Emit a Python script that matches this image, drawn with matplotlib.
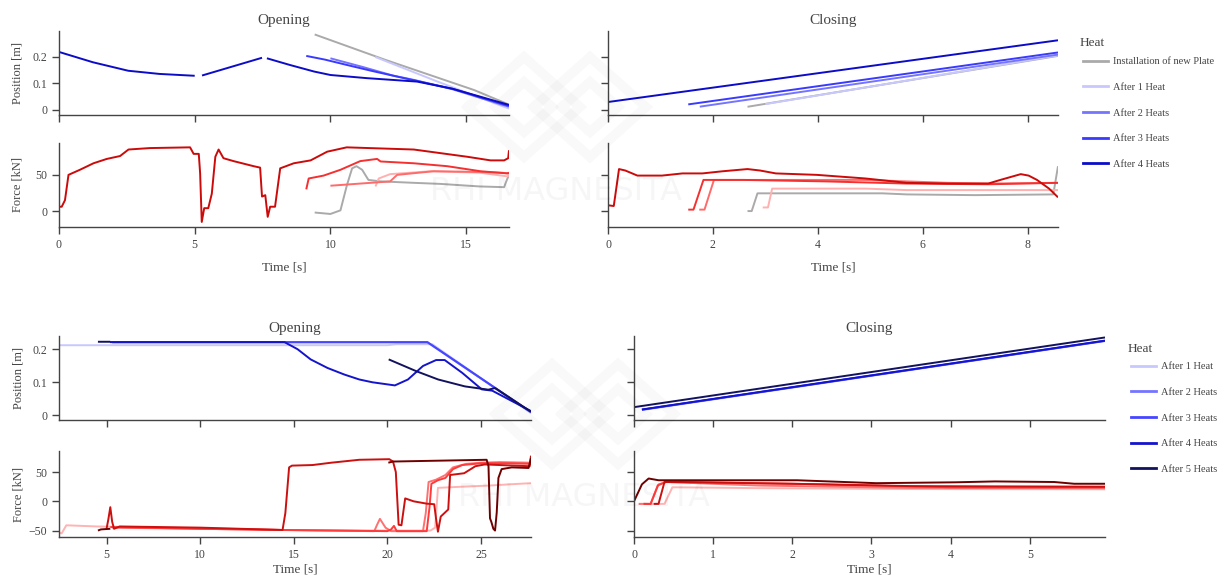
import numpy as np
import matplotlib
matplotlib.use("Agg")
import matplotlib.pyplot as plt
from matplotlib.lines import Line2D

nan = np.nan

# ---------------- data: upper figure (new plate + 4 heats) ----------------
heats_top = ["Installation of new Plate", "After 1 Heat", "After 2 Heats", "After 3 Heats", "After 4 Heats"]
pos_colors_top = ["#aaaaaa", "#c8c8ff", "#7474ff", "#3a3aff", "#0c0cc8"]
force_colors_top = ["#aaaaaa", "#ffb0b0", "#ff6a6a", "#f43030", "#cc0a0a"]

# opening, position
op1_pos_t_inst = [9.42, 12.0, 15.3, 16.58]
op1_pos_inst = [0.285, 0.19, 0.075, 0.02]
op1_pos_t_h1 = [11.65, 14.0, 16.58]
op1_pos_h1 = [0.200, 0.105, 0.005]
op1_pos_t_h2 = [10.0, 11.2, 12.3, 13.1, 14.5, 16.58]
op1_pos_h2 = [0.195, 0.162, 0.13, 0.113, 0.078, 0.012]
op1_pos_t_h3 = [9.11, 9.8, 10.6, 11.5, 12.5, 13.3, 14.5, 16.58]
op1_pos_h3 = [0.204, 0.19, 0.17, 0.148, 0.125, 0.107, 0.08, 0.015]
op1_pos_t_h4 = [0, 1.25, 2.55, 3.7, 5.0, nan, 5.27, 7.48, nan, 7.66, 8.5, 9.4, 10.0, 11.35, 13.2, 14.5, 16.58]
op1_pos_h4 = [0.219, 0.18, 0.148, 0.136, 0.129, nan, 0.13, 0.197, nan, 0.195, 0.17, 0.145, 0.132, 0.12, 0.107, 0.08, 0.019]

# opening, force
op1_f_t_inst = [9.42, 10.0, 10.37, 10.61, 10.8, 10.96, 11.17, 11.4, 11.85, 13.07, 14.06, 15.5, 16.4, 16.5, 16.58]
op1_f_inst = [-2, -4, 1, 36, 59, 62, 57, 43, 41, 39, 37.5, 34, 33, 43, 50]
op1_f_t_h1 = [11.66, 11.78, 12.2, 13.7, 15.5, 16.5, 16.58]
op1_f_h1 = [34, 45, 51, 55, 53, 48, 49]
op1_f_t_h2 = [10.0, 11.85, 12.2, 12.46, 13.8, 15.5, 16.3, 16.58]
op1_f_h2 = [35, 40, 41, 50, 55, 54, 53, 52]
op1_f_t_h3 = [9.11, 9.2, 9.75, 10.37, 11.1, 11.72, 11.85, 13.07, 14.3, 15.53, 16.52, 16.58]
op1_f_h3 = [30, 45, 49, 57, 69, 72, 68.5, 66, 62, 55, 52, 53]
op1_f_t_h4 = [0, 0.1, 0.22, 0.35, 0.47, 0.77, 1.27, 1.76, 2.25, 2.56, 3.35, 4.83, 4.96, 5.15, 5.2, 5.26,
              5.35, 5.5, 5.63, 5.76, 5.88, 6.06, 6.43, 7.17, 7.41, 7.48, 7.6, 7.69, 7.78, 7.96, 8.15,
              8.65, 9.27, 9.88, 10.6, 13.07, 15.04, 15.9, 16.4, 16.55, 16.58]
op1_f_h4 = [6, 6, 15, 50, 52, 57, 66, 72, 76, 85, 87, 88, 79, 79, 52, -15,
            4, 4, 24, 75, 85, 73, 69, 62, 60, 20, 22, -8, 6, 6, 59,
            66, 70, 82, 88, 85, 75, 70, 70, 73, 84]

# closing, position
cl1_pos_t_inst = [2.66, 8.58]
cl1_pos_inst = [0.012, 0.204]
cl1_pos_t_h1 = [3.0, 8.58]
cl1_pos_h1 = [0.022, 0.206]
cl1_pos_t_h2 = [1.75, 8.58]
cl1_pos_h2 = [0.0125, 0.209]
cl1_pos_t_h3 = [1.53, 8.58]
cl1_pos_h3 = [0.021, 0.217]
cl1_pos_t_h4 = [0.0, 8.58]
cl1_pos_h4 = [0.030, 0.263]

# closing, force
cl1_f_t_inst = [2.66, 2.74, 2.85, 4.14, 5.23, 5.7, 7.0, 8.49, 8.58]
cl1_f_inst = [0, 0, 24.5, 24.5, 24.5, 23, 22, 23, 62]
cl1_f_t_h1 = [2.95, 3.05, 3.13, 4.91, 5.69, 8.58]
cl1_f_h1 = [5, 5, 31, 31, 29, 29]
cl1_f_t_h2 = [1.74, 1.84, 2.02, 3.36, 4.91, 6.47, 7.25, 8.58]
cl1_f_h2 = [2, 2, 43, 43, 43, 39, 38, 39]
cl1_f_t_h3 = [1.53, 1.63, 1.82, 2.58, 4.14, 5.69, 7.25, 8.58]
cl1_f_h3 = [2, 2, 43, 43, 41, 38, 37, 39]
cl1_f_t_h4 = [0, 0.11, 0.21, 0.33, 0.56, 1.03, 1.42, 1.8, 2.19, 2.66, 2.9, 3.2, 3.98, 4.91, 5.69,
              6.47, 7.25, 7.48, 7.87, 8.02, 8.18, 8.41, 8.58]
cl1_f_h4 = [8, 7, 58, 56, 49, 49, 52, 52, 55, 58, 56, 52, 50, 45, 39,
            38, 38, 43, 51, 49, 43, 31, 19]

# ---------------- data: lower figure (5 heats) ----------------
heats_bottom = ["After 1 Heat", "After 2 Heats", "After 3 Heats", "After 4 Heats", "After 5 Heats"]
pos_colors_bottom = ["#c8c8ff", "#7474ff", "#4646ff", "#1414cc", "#12125e"]
force_colors_bottom = ["#ffb3b3", "#ff7070", "#ff3a3a", "#cc1010", "#6e0000"]

# opening, position
op2_pos_t_h1 = [2.46, 20.0, 20.5, 22.4, 27.67]
op2_pos_h1 = [0.212, 0.212, 0.215, 0.215, 0.006]
op2_pos_t_h2 = [5.3, 22.14, 27.67]
op2_pos_h2 = [0.2205, 0.2205, 0.008]
op2_pos_t_h3 = [5.2, 22.14, 27.67]
op2_pos_h3 = [0.2215, 0.2215, 0.009]
op2_pos_t_h4 = [5.18, 14.5, 15.2, 15.9, 16.8, 17.7, 18.5, 19.2, 20.4, 21.1, 21.9, 22.6, 23.06, 24.0, 25.04, 25.6, 27.67]
op2_pos_h4 = [0.2215, 0.2215, 0.2, 0.169, 0.143, 0.123, 0.108, 0.0995, 0.09, 0.108, 0.149, 0.167, 0.167, 0.128, 0.078, 0.074, 0.012]
op2_pos_t_h5 = [4.54, 5.2, nan, 20.07, 21.55, 22.71, 24.14, 25.39, 25.75, 27.67]
op2_pos_h5 = [0.2225, 0.2225, nan, 0.169, 0.133, 0.108, 0.087, 0.077, 0.082, 0.01]

# opening, force
op2_f_t_h1 = [2.46, 2.6, 2.85, 4.5, 10.0, 14.4, 20.0, 21.5, 22.3, 22.55, 22.7, 24.0, 25.5, 26.5, 27.67]
op2_f_h1 = [-53, -55, -41, -43, -46, -49, -50, -50, -50, -45, 23, 25, 27, 29, 31]
op2_f_t_h2 = [5.3, 10, 14.4, 19.3, 19.45, 19.6, 19.9, 20.2, 21.9, 22.05, 22.2, 22.6, 23.1, 23.5, 24.2, 25.0, 26.0, 27.67]
op2_f_h2 = [-45, -47, -49, -51, -40, -30, -45, -51, -51, -20, 33, 37, 45, 58, 64, 66, 67, 66]
op2_f_t_h3 = [5.2, 10, 14.4, 20.0, 20.2, 20.35, 20.5, 22.1, 22.25, 22.35, 22.7, 23.1, 23.5, 24.0, 25.0, 26.5, 27.67]
op2_f_h3 = [-44, -47, -49, -51, -48, -42, -51, -51, -10, 30, 36, 40, 55, 62, 65, 65, 64]
op2_f_t_h4 = [5.0, 5.1, 5.2, 5.3, 5.4, 5.7, 10.0, 14.4, 14.55, 14.75, 14.9, 16.0, 17.0, 18.5, 20.1, 20.3,
              20.45, 20.6, 20.75, 20.95, 21.4, 22.1, 22.5, 22.6, 22.7, 22.85, 23.25, 23.35, 24.1, 24.7,
              25.2, 26.0, 27.6, 27.67]
op2_f_h4 = [-47, -30, -10, -35, -47, -43, -45, -49, -20, 58, 61, 62, 66, 71, 72, 68,
            50, -40, -41, 5, 0, -4, -5, -30, -52, -26, -14, 45, 48, 60,
            63, 62, 60, 78]
op2_f_t_h5 = [4.54, 4.7, 5.2, nan, 20.05, 20.3, 25.3, 25.4, 25.48, 25.55, 25.66, 25.75, 25.84, 25.93,
              26.1, 26.64, 27.54, 27.67]
op2_f_h5 = [-50, -48, -47, nan, 66, 68, 71, 60, -29, -35, -47, -50, -19, 40,
            55, 58, 57, 74]

# closing, position
cl2_pos_t_h1 = [0.12, 5.95]
cl2_pos_h1 = [0.0155, 0.2245]
cl2_pos_t_h2 = [0.1, 5.95]
cl2_pos_h2 = [0.016, 0.225]
cl2_pos_t_h3 = [0.1, 5.95]
cl2_pos_h3 = [0.0165, 0.2255]
cl2_pos_t_h4 = [0.1, 5.95]
cl2_pos_h4 = [0.0168, 0.226]
cl2_pos_t_h5 = [0.0, 5.95]
cl2_pos_h5 = [0.024, 0.2356]

# closing, force
cl2_f_t_h1 = [0.06, 0.385, 0.485, 1.56, 3.5, 5.95]
cl2_f_h1 = [-4.4, -4.4, 24, 22.5, 21, 20.6]
cl2_f_t_h2 = [0.06, 0.21, 0.31, 0.41, 1.56, 3.5, 5.95]
cl2_f_h2 = [-4.4, -4.4, 29, 33, 27, 23, 22.5]
cl2_f_t_h3 = [0.12, 0.21, 0.3, 0.4, 2.0, 4.0, 5.95]
cl2_f_h3 = [-4.4, -4.4, 27, 33, 30, 24, 24]
cl2_f_t_h4 = [0.25, 0.31, 0.385, 0.6, 2.0, 3.5, 5.95]
cl2_f_h4 = [-4.4, -4.4, 33, 33, 30, 26, 25]
cl2_f_t_h5 = [0, 0.1, 0.185, 0.31, 1.06, 2.06, 3.06, 4.06, 4.56, 5.31, 5.56, 5.95]
cl2_f_h5 = [0, 29, 39, 36, 36, 36, 31, 32.5, 34, 33, 30, 30]

# group the series per panel (same order as the legend)
op1_pos = [(op1_pos_t_inst, op1_pos_inst), (op1_pos_t_h1, op1_pos_h1), (op1_pos_t_h2, op1_pos_h2),
           (op1_pos_t_h3, op1_pos_h3), (op1_pos_t_h4, op1_pos_h4)]
op1_f = [(op1_f_t_inst, op1_f_inst), (op1_f_t_h1, op1_f_h1), (op1_f_t_h2, op1_f_h2),
         (op1_f_t_h3, op1_f_h3), (op1_f_t_h4, op1_f_h4)]
cl1_pos = [(cl1_pos_t_inst, cl1_pos_inst), (cl1_pos_t_h1, cl1_pos_h1), (cl1_pos_t_h2, cl1_pos_h2),
           (cl1_pos_t_h3, cl1_pos_h3), (cl1_pos_t_h4, cl1_pos_h4)]
cl1_f = [(cl1_f_t_inst, cl1_f_inst), (cl1_f_t_h1, cl1_f_h1), (cl1_f_t_h2, cl1_f_h2),
         (cl1_f_t_h3, cl1_f_h3), (cl1_f_t_h4, cl1_f_h4)]
op2_pos = [(op2_pos_t_h1, op2_pos_h1), (op2_pos_t_h2, op2_pos_h2), (op2_pos_t_h3, op2_pos_h3),
           (op2_pos_t_h4, op2_pos_h4), (op2_pos_t_h5, op2_pos_h5)]
op2_f = [(op2_f_t_h1, op2_f_h1), (op2_f_t_h2, op2_f_h2), (op2_f_t_h3, op2_f_h3),
         (op2_f_t_h4, op2_f_h4), (op2_f_t_h5, op2_f_h5)]
cl2_pos = [(cl2_pos_t_h1, cl2_pos_h1), (cl2_pos_t_h2, cl2_pos_h2), (cl2_pos_t_h3, cl2_pos_h3),
           (cl2_pos_t_h4, cl2_pos_h4), (cl2_pos_t_h5, cl2_pos_h5)]
cl2_f = [(cl2_f_t_h1, cl2_f_h1), (cl2_f_t_h2, cl2_f_h2), (cl2_f_t_h3, cl2_f_h3),
         (cl2_f_t_h4, cl2_f_h4), (cl2_f_t_h5, cl2_f_h5)]

plt.rcParams['font.family'] = ['Liberation Serif', 'DejaVu Serif']
AXC = '#444444'

W, H = 1219, 576
fig = plt.figure(figsize=(W / 100, H / 100), dpi=100)


def px_axes(x0, y0, x1, y1):
    return fig.add_axes([x0 / W, 1 - y1 / H, (x1 - x0) / W, (y1 - y0) / H])


def style(ax, xlim, ylim, xticks, yticks, ylabels=None, show_x=False):
    ax.set_xlim(xlim)
    ax.set_ylim(ylim)
    ax.patch.set_alpha(0)
    for s in ['top', 'right']:
        ax.spines[s].set_visible(False)
    for s in ['left', 'bottom']:
        ax.spines[s].set_color(AXC)
        ax.spines[s].set_linewidth(1.0)
    ax.set_xticks(xticks)
    if ylabels is None:
        ax.set_yticks(yticks)
        ax.tick_params(labelleft=False)
    else:
        ax.set_yticks(yticks, ylabels)
    ax.tick_params(direction='out', length=5, width=1, color=AXC, labelcolor=AXC, labelsize=8.5)
    if not show_x:
        ax.tick_params(labelbottom=False)


def draw(ax, series, colors):
    for (t, v), c in zip(series, colors):
        ax.plot(t, v, color=c, lw=1.4, solid_capstyle='butt')


def heat_legend(colors, labels, x, y_title, y_first):
    fig.text(x / W, 1 - y_title / H, 'Heat', fontsize=9.5, color=AXC, va='center', ha='left')
    handles = [Line2D([], [], color=c, lw=2) for c in colors]
    leg = fig.legend(handles, labels, loc='upper left', bbox_to_anchor=((x + 3) / W, 1 - (y_first - 5) / H),
                     bbox_transform=fig.transFigure, frameon=False, fontsize=7.5,
                     handlelength=2.4, handletextpad=0.5, labelspacing=1.57,
                     borderaxespad=0, borderpad=0)
    for txt in leg.get_texts():
        txt.set_color(AXC)


def diamond(cx, cy, rx, ry, lw):
    xs = [cx - rx, cx, cx + rx, cx, cx - rx]
    ys = [cy, cy - ry, cy, cy + ry, cy]
    fig.add_artist(Line2D([v / W for v in xs], [1 - v / H for v in ys], transform=fig.transFigure,
                          color='#000000', alpha=0.022, lw=lw, solid_joinstyle='miter'))


pos_ticks = [0, 0.1, 0.2]
pos_labels = ['0', '0.1', '0.2']

# ---------------- upper figure ----------------
ax = px_axes(59, 31, 509, 115)
draw(ax, op1_pos, pos_colors_top)
style(ax, (0, 16.58), (-0.019, 0.298), [0, 5, 10, 15], pos_ticks, pos_labels)
ax.set_ylabel('Position [m]', fontsize=9, color=AXC)
ax.yaxis.set_label_coords(-0.078, 0.5)
ax.set_title('Opening', fontsize=11, color=AXC, pad=5)

ax = px_axes(59, 143, 509, 227)
draw(ax, op1_f, force_colors_top)
style(ax, (0, 16.58), (-22, 94), [0, 5, 10, 15], [0, 50], ['0', '50'], show_x=True)
ax.set_ylabel('Force [kN]', fontsize=9, color=AXC)
ax.yaxis.set_label_coords(-0.078, 0.5)
ax.set_xlabel('Time [s]', fontsize=9.5, color=AXC, labelpad=8)

ax = px_axes(608, 31, 1058, 115)
draw(ax, cl1_pos, pos_colors_top)
style(ax, (0, 8.58), (-0.019, 0.298), [0, 2, 4, 6, 8], pos_ticks)
ax.set_title('Closing', fontsize=11, color=AXC, pad=5)

ax = px_axes(608, 143, 1058, 227)
draw(ax, cl1_f, force_colors_top)
style(ax, (0, 8.58), (-22, 94), [0, 2, 4, 6, 8], [0, 50], show_x=True)
ax.set_xlabel('Time [s]', fontsize=9.5, color=AXC, labelpad=8)

heat_legend(pos_colors_top, heats_top, 1080, 43, 62)

# ---------------- lower figure ----------------
ax = px_axes(59, 336, 531, 420)
draw(ax, op2_pos, pos_colors_bottom)
style(ax, (2.46, 27.67), (-0.015, 0.24), [5, 10, 15, 20, 25], pos_ticks, pos_labels)
ax.set_ylabel('Position [m]', fontsize=9, color=AXC)
ax.yaxis.set_label_coords(-0.074, 0.5)
ax.set_title('Opening', fontsize=11, color=AXC, pad=3)

ax = px_axes(59, 451, 531, 537)
draw(ax, op2_f, force_colors_bottom)
style(ax, (2.46, 27.67), (-61, 86), [5, 10, 15, 20, 25], [-50, 0, 50], ['\u221250', '0', '50'], show_x=True)
ax.set_ylabel('Force [kN]', fontsize=9, color=AXC)
ax.yaxis.set_label_coords(-0.074, 0.5)
ax.set_xlabel('Time [s]', fontsize=9.5, color=AXC, labelpad=2)

ax = px_axes(634, 336, 1105, 420)
draw(ax, cl2_pos, pos_colors_bottom)
style(ax, (0, 5.95), (-0.015, 0.24), [0, 1, 2, 3, 4, 5], pos_ticks)
ax.set_title('Closing', fontsize=11, color=AXC, pad=3)

ax = px_axes(634, 451, 1105, 537)
draw(ax, cl2_f, force_colors_bottom)
style(ax, (0, 5.95), (-61, 86), [0, 1, 2, 3, 4, 5], [-50, 0, 50], show_x=True)
ax.set_xlabel('Time [s]', fontsize=9.5, color=AXC, labelpad=2)

heat_legend(pos_colors_bottom, heats_bottom, 1128, 349, 367)

# faint watermark (logo + company name)
for dx, dy in [(0, 0), (28, 307)]:
    for cx in (524, 590):
        diamond(cx + dx, 107 + dy, 56, 50, 7)
        diamond(cx + dx, 107 + dy, 28, 25, 7)
    fig.text((556 + dx) / W, 1 - (191 + dy) / H, 'RHI MAGNESITA', ha='center', va='center', fontsize=23,
             family='DejaVu Sans', color='#000000', alpha=0.035)

fig.savefig('out.png', dpi=100)
